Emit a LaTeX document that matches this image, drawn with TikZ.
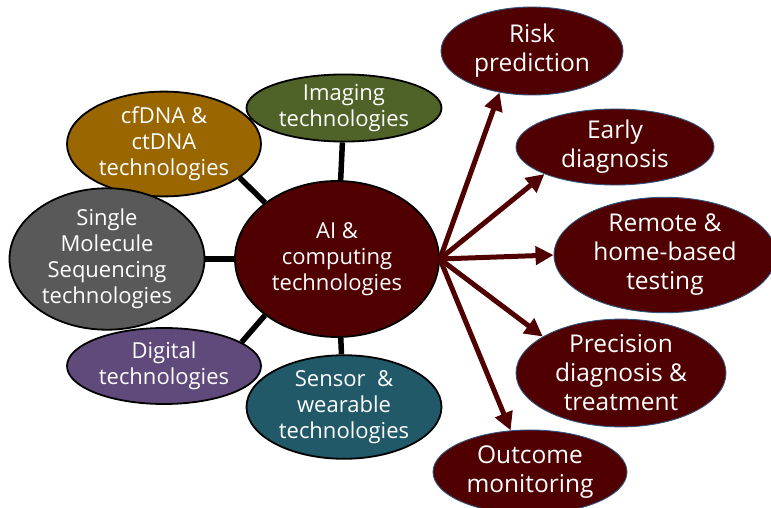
\documentclass[tikz,border=0pt]{standalone}
\usepackage{fontspec}
\setmainfont{Open Sans}
\usepackage{xcolor}
\usepackage{tikz}
\usetikzlibrary{shapes.geometric, arrows.meta}

\definecolor{hubmaroon}{RGB}{80,0,0}
\definecolor{edgeblue}{RGB}{50,85,130}
\definecolor{imgolive}{RGB}{79,98,40}
\definecolor{dnamustard}{RGB}{153,102,0}
\definecolor{seqgray}{RGB}{89,89,89}
\definecolor{digpurple}{RGB}{96,74,123}
\definecolor{senteal}{RGB}{33,89,104}

\begin{document}
\begin{tikzpicture}[
  x=1pt, y=-1pt,
  font=\fontsize{22}{26}\selectfont,
  techellipse/.style={
    ellipse,
    draw=black,
    line width=1.8pt,
    text=white,
    align=center,
    inner sep=0pt
  },
  outcomeellipse/.style={
    ellipse,
    draw=edgeblue,
    line width=0.9pt,
    fill=hubmaroon,
    text=white,
    align=center,
    inner sep=0pt,
    font=\fontsize{24.5}{29}\selectfont
  },
  linkline/.style={
    line width=5.5pt,
    draw=black
  },
  flowarrow/.style={
    -{Triangle[length=18pt,width=18pt]},
    line width=5pt,
    draw=hubmaroon
  }
]
\useasboundingbox (0,0) rectangle (771,508);

% hub
\node[techellipse, fill=hubmaroon, minimum width=204pt, minimum height=156pt] (ai) at (337,259)
  {AI \&\\computing\\technologies};

% technologies round the hub
\node[techellipse, fill=imgolive, minimum width=195pt, minimum height=64pt] (img) at (344,108)
  {Imaging\\technologies};
\node[techellipse, fill=dnamustard, minimum width=194pt, minimum height=98pt] (dna) at (164,144)
  {cfDNA \&\\ctDNA\\technologies};
\node[techellipse, fill=seqgray, minimum width=195pt, minimum height=133pt] (seq) at (107,259)
  {Single\\Molecule\\Sequencing\\technologies};
\node[techellipse, fill=digpurple, minimum width=194pt, minimum height=76pt] (dig) at (164,366)
  {Digital\\technologies};
\node[techellipse, fill=senteal, minimum width=195pt, minimum height=89pt] (sen) at (344,407)
  {Sensor~~\&\\wearable\\technologies};

% outcomes
\node[outcomeellipse, minimum width=182pt, minimum height=88pt] (risk) at (532,51)
  {Risk\\prediction};
\node[outcomeellipse, minimum width=198pt, minimum height=76pt] (early) at (615,147)
  {Early\\diagnosis};
\node[outcomeellipse, minimum width=222pt, minimum height=101pt] (remote) at (665,255)
  {Remote \&\\home-based\\testing};
\node[outcomeellipse, minimum width=210pt, minimum height=96pt] (precise) at (621,373)
  {Precision\\diagnosis \&\\treatment};
\node[outcomeellipse, minimum width=194pt, minimum height=84pt] (outcome) at (530,472)
  {Outcome\\monitoring};

\draw[linkline] (img) -- (ai);
\draw[linkline] (dna.336) -- (ai.142);
\draw[linkline] (seq) -- (ai);
\draw[linkline] (dig.17) -- (ai.218);
\draw[linkline] (sen) -- (ai);

\draw[flowarrow] (ai.east) -- (risk.232);
\draw[flowarrow] (ai.east) -- (early.201);
\draw[flowarrow] (ai.east) -- (remote.west);
\draw[flowarrow] (ai.east) -- (precise.155);
\draw[flowarrow] (ai.east) -- (outcome.115);

\end{tikzpicture}
\end{document}
